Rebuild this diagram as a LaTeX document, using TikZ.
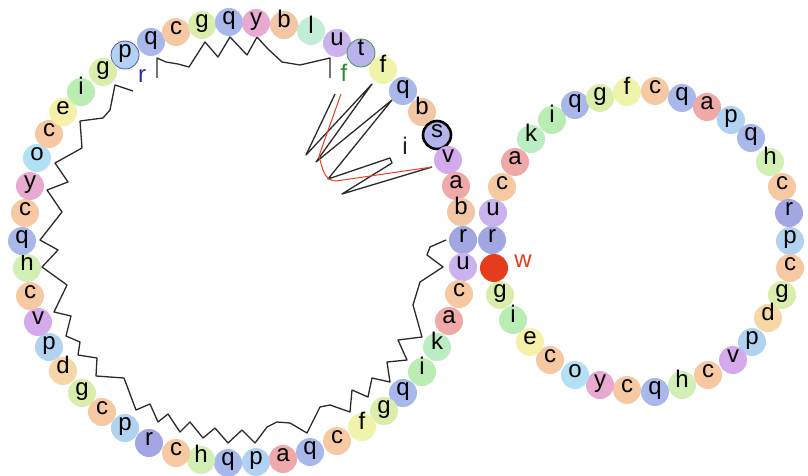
\documentclass[tikz,border=0pt]{standalone}
\usepackage{fontspec}
\setmainfont{Liberation Sans}
% bead colours, one per residue letter
\definecolor{bead-q}{HTML}{A8B8EA}
\definecolor{bead-p}{HTML}{B2D2F2}
\definecolor{bead-r}{HTML}{A2A6E2}
\definecolor{bead-c}{HTML}{F6C9A3}
\definecolor{bead-g}{HTML}{DAEDAB}
\definecolor{bead-y}{HTML}{E9AAD2}
\definecolor{bead-b}{HTML}{F3C6A6}
\definecolor{bead-l}{HTML}{C2EDD9}
\definecolor{bead-u}{HTML}{C9B2ED}
\definecolor{bead-t}{HTML}{BAB2EC}
\definecolor{bead-f}{HTML}{EFF4AA}
\definecolor{bead-s}{HTML}{B3B3EE}
\definecolor{bead-v}{HTML}{D5AAED}
\definecolor{bead-a}{HTML}{F0A9A9}
\definecolor{bead-k}{HTML}{BAEDC2}
\definecolor{bead-i}{HTML}{BAEDB2}
\definecolor{bead-e}{HTML}{F5F1AA}
\definecolor{bead-o}{HTML}{B2E1F5}
\definecolor{bead-h}{HTML}{D2F0B5}
\definecolor{bead-d}{HTML}{F7D7A5}
\definecolor{labblue}{HTML}{2B2BA5}
\definecolor{labgreen}{HTML}{2E8B2E}
\definecolor{labdark}{HTML}{1E1E30}
\definecolor{wred}{HTML}{E53D1B}
\definecolor{chain}{HTML}{2A2A2A}
\definecolor{redchain}{HTML}{E8401E}
\begin{document}
\begin{tikzpicture}[x=1pt,y=-1pt,
  letters/.style={font=\fontsize{24}{24}\selectfont},
  bead/.style={circle, minimum size=28pt, inner sep=0pt, text height=1ex,
    text depth=0pt, letters},
  plain/.style={},
  ringblue/.style={draw=labblue!80, line width=0.8pt},
  ringgreen/.style={draw=labgreen!90, line width=0.8pt},
  ringblack/.style={draw=black, line width=2.6pt},
  tag/.style={inner sep=0pt, text height=1ex, text depth=0pt, letters},
  backbone/.style={draw=chain, line width=1.3pt, line join=round},
  redtrace/.style={draw=redchain, line width=1pt}
]
\useasboundingbox (0,0) rectangle (808,476);

% folded backbone inside the large ring
\coordinate (a0) at (157,78);
\coordinate (a1) at (330,78);
\draw[backbone] (a0) -- (157,58) -- (166,62) -- (178,64) -- (189,67) -- (205,42)
  -- (218,57) -- (230,37) -- (247,55) -- (257,37) -- (268,49) -- (282,62)
  -- (300,65) -- (330,58) -- (a1);

\coordinate (b0) at (133,91);
\coordinate (b1) at (446,240);
\draw[backbone] (b0) -- (115,85) -- (110,110) -- (103,118) -- (80,121) -- (82,148)
  -- (55,163) -- (68,182) -- (47,190) -- (62,212) -- (40,240) -- (58,250)
  -- (42,267) -- (67,285) -- (54,312) -- (71,316) -- (66,336) -- (80,342)
  -- (78,355) -- (97,358) -- (96,376) -- (124,378) -- (136,410) -- (150,404)
  -- (158,422) -- (168,414) -- (180,432) -- (190,422) -- (203,438) -- (215,428)
  -- (228,443) -- (242,430) -- (255,443) -- (267,427) -- (277,422) -- (290,423)
  -- (307,433) -- (320,407) -- (330,405) -- (350,412) -- (352,390) -- (368,397)
  -- (372,378) -- (390,382) -- (387,362) -- (407,360) -- (398,340) -- (422,337)
  -- (413,305) -- (420,282) -- (443,267) -- (427,255) -- (430,247) -- (b1);

% hairpin fan
\coordinate (c0) at (335,94);
\coordinate (c1) at (432,167);
\draw[backbone] (c0) -- (306,155) -- (372,84) -- (316,162) -- (392,100)
  -- (328,179) -- (390,158) -- (392,163) -- (342,194) -- (c1);
\coordinate (d0) at (341,94);
\draw[redtrace] (d0) -- (319,156) to[out=-75,in=180] (336,181) -- (c1);

% large ring
\foreach \px/\py/\l/\st [count=\n] in {
  125/55/p/ringblue, 151/42/q/plain, 176/32/c/plain, 202/25/g/plain,
  229/22/q/plain, 256/23/y/plain, 284/25/b/plain, 311/31/l/plain,
  337/43/u/plain, 361/53/t/ringgreen, 383/70/f/plain, 403/91/q/plain,
  422/112/b/plain, 437/135/s/ringblack, 448/160/v/plain, 456/186/a/plain,
  461/212/b/plain, 463/240/r/plain, 463/267/u/plain, 459/294/c/plain,
  449/321/a/plain, 437/347/k/plain, 422/372/i/plain, 403/393/q/plain,
  384/411/g/plain, 362/427/f/plain, 337/441/c/plain, 310/452/q/plain,
  283/459/a/plain, 256/462/p/plain, 228/463/q/plain, 201/460/h/plain,
  176/453/c/plain, 149/443/r/plain, 125/428/p/plain, 102/412/c/plain,
  82/393/g/plain, 63/371/d/plain, 49/347/p/plain, 38/322/v/plain,
  30/296/c/plain, 27/268/h/plain, 22/241/q/plain, 25/213/c/plain,
  30/186/y/plain, 37/158/o/plain, 49/134/c/plain, 63/112/e/plain,
  81/92/i/plain, 103/72/g/plain}
  \node[bead, fill=bead-\l, \st] (L\n) at (\px,\py) {\l};

% small ring
\foreach \px/\py/\l [count=\n] in {
  492/240/r, 493/213/u, 502/187/c, 515/162/a, 531/139/k, 552/120/i,
  575/105/q, 600/98/g, 627/92/f, 655/91/c, 682/98/q, 707/107/a,
  731/120/p, 751/138/q, 770/162/h, 782/187/c, 789/213/r, 790/241/p,
  790/268/c, 782/295/g, 768/318/d, 752/342/p, 733/360/v, 708/375/c,
  682/385/h, 655/392/q, 627/390/c, 600/385/y, 575/375/o, 550/360/c,
  530/342/e, 513/320/i, 500/295/g}
  \node[bead, fill=bead-\l] (R\n) at (\px,\py) {\l};

% junction site
\node[circle, fill=wred, minimum size=28pt, inner sep=0pt] (W) at (494,268) {};

% annotations
\node[tag, text=labblue] (labr) at (142,80) {r};
\node[tag, text=labgreen] (labf) at (344,79) {f};
\node[tag, text=labdark] (labi) at (405,152) {i};
\node[tag, text=wred] (labw) at (523,265) {w};
\end{tikzpicture}
\end{document}
